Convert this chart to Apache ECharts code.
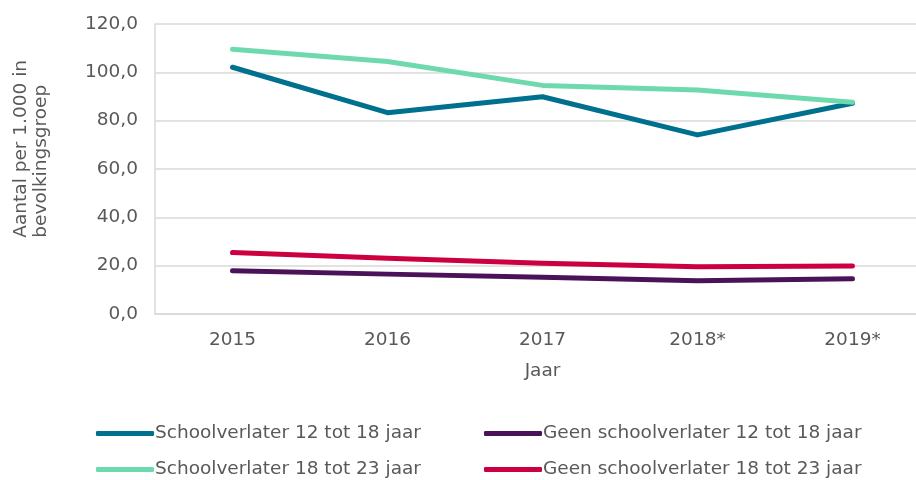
<!DOCTYPE html>
<html>
<head>
<meta charset="utf-8">
<script src="https://cdn.jsdelivr.net/npm/echarts@6/dist/echarts.min.js"></script>
<style>
  html, body { margin: 0; padding: 0; background: #fff; }
  #chart { width: 916px; height: 480px; }
</style>
</head>
<body>
<div id="chart"></div>
<script>
// jaren op de x-as
const years = ['2015', '2016', '2017', '2018*', '2019*']

const schoolverlater1218 = [102.1, 83.3, 89.9, 74.1, 87.2]
const geenSchoolverlater1218 = [17.9, 16.5, 15.2, 13.8, 14.6]
const schoolverlater1823 = [109.6, 104.5, 94.6, 92.7, 87.6]
const geenSchoolverlater1823 = [25.4, 23.1, 21.0, 19.6, 19.9]

const seriesNames = [
  'Schoolverlater 12 tot 18 jaar',
  'Geen schoolverlater 12 tot 18 jaar',
  'Schoolverlater 18 tot 23 jaar',
  'Geen schoolverlater 18 tot 23 jaar'
]
const seriesData = [schoolverlater1218, geenSchoolverlater1218, schoolverlater1823, geenSchoolverlater1823]
const colors = ['#00708f', '#4a1259', '#6fd9ae', '#cc0041']

const font = "'DejaVu Sans', Verdana, sans-serif"
const fontSize = 18.5
const textColor = '#595959'

const chart = echarts.init(document.getElementById('chart'))

// één legenda per item zodat ze als in het origineel in twee kolommen staan
const legendPos = [
  { left: 96, top: 424 },
  { left: 484, top: 424 },
  { left: 96, top: 460 },
  { left: 484, top: 460 }
]
const legends = seriesNames.map((name, i) => ({
  data: [name],
  left: legendPos[i].left,
  top: legendPos[i].top,
  icon: 'roundRect',
  itemWidth: 58,
  itemHeight: 5,
  itemGap: 0,
  padding: 0,
  textStyle: { fontFamily: font, fontSize: fontSize, color: textColor, padding: [0, 0, 0, -4] }
}))

chart.setOption({
  animation: false,
  color: colors,
  grid: { left: 155, width: 775, top: 24, bottom: 166, outerBoundsMode: 'none' },
  legend: legends,
  graphic: [{
    type: 'text',
    left: 11,
    top: 60,
    rotation: Math.PI / 2,
    style: {
      text: 'Aantal per 1.000 in\nbevolkingsgroep',
      fontFamily: font,
      fontSize: fontSize,
      fill: textColor,
      align: 'center',
      lineHeight: 20
    }
  }],
  xAxis: {
    type: 'category',
    data: years,
    name: 'Jaar',
    nameLocation: 'middle',
    nameGap: 48,
    nameTextStyle: { fontFamily: font, fontSize: fontSize, color: textColor },
    axisLine: { lineStyle: { color: '#d9d9d9', width: 1.5 } },
    axisTick: { show: false },
    axisLabel: { fontFamily: font, fontSize: fontSize, color: textColor, margin: 17 }
  },
  yAxis: {
    type: 'value',
    min: 0,
    max: 120,
    interval: 20,
    axisLine: { show: true, lineStyle: { color: '#d9d9d9', width: 1.5 } },
    axisTick: { show: false },
    splitLine: { lineStyle: { color: '#d9d9d9', width: 1.5 } },
    axisLabel: {
      fontFamily: font,
      fontSize: fontSize,
      color: textColor,
      margin: 17,
      formatter: v => v.toFixed(1).replace('.', ',')
    }
  },
  series: seriesNames.map((name, i) => ({
    name: name,
    type: 'line',
    data: seriesData[i],
    symbol: 'none',
    lineStyle: { width: 5, cap: 'round', join: 'round' }
  }))
})
</script>
</body>
</html>
